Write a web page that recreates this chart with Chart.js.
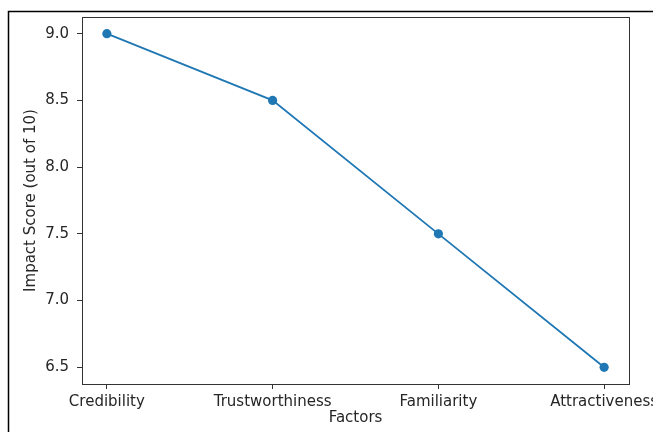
<!DOCTYPE html>
<html>
<head>
<meta charset="utf-8">
<script src="https://cdn.jsdelivr.net/npm/chart.js@4"></script>
<style>
  html, body { margin: 0; padding: 0; background: #fff; }
  #wrap { width: 653px; height: 432px; position: relative; }
</style>
</head>
<body>
<div id="wrap"><canvas id="lineChart" width="653" height="432"></canvas></div>
<script>
// chart data
const factors = ['Credibility', 'Trustworthiness', 'Familiarity', 'Attractiveness'];
const impactScores = [9.0, 8.5, 7.5, 6.5];
const yTicks = [6.5, 7.0, 7.5, 8.0, 8.5, 9.0];

const points = factors.map((f, i) => ({ x: i, y: impactScores[i] }));

// screenshot frame lines + the matplotlib box around the plot
const framePlugin = {
    id: 'frame',
    afterDraw(chart) {
        const ctx = chart.ctx;
        const a = chart.chartArea;
        ctx.save();
        ctx.strokeStyle = '#333';
        ctx.lineWidth = 1;
        ctx.strokeRect(a.left + 0.5, a.top + 0.5, a.right - a.left, a.bottom - a.top);
        ctx.strokeStyle = '#000';
        ctx.lineWidth = 1.5;
        ctx.beginPath();
        ctx.moveTo(653, 11.5);
        ctx.lineTo(8.5, 11.5);
        ctx.lineTo(8.5, 432);
        ctx.stroke();
        ctx.restore();
    }
};

const font = { family: 'DejaVu Sans', size: 15 };

new Chart(document.getElementById('lineChart').getContext('2d'), {
    type: 'line',
    data: {
        datasets: [{
            data: points,
            borderColor: '#1f77b4',
            backgroundColor: '#1f77b4',
            borderWidth: 1.8,
            pointRadius: 4.6,
            pointHoverRadius: 4.6,
            pointBorderWidth: 0,
            tension: 0
        }]
    },
    options: {
        responsive: false,
        animation: false,
        layout: { padding: { top: 17, right: 24, left: 0, bottom: 0 } },
        plugins: {
            legend: { display: false },
            tooltip: { enabled: false }
        },
        scales: {
            x: {
                type: 'linear',
                min: -0.15,
                max: 3.15,
                afterBuildTicks: scale => {
                    scale.ticks = factors.map((f, i) => ({ value: i }));
                },
                afterFit: scale => {
                    scale.height = 48;
                    scale.paddingLeft = 0;
                    scale.paddingRight = 0;
                },
                ticks: {
                    callback: v => factors[v],
                    color: '#262626',
                    font: font,
                    padding: 4,
                    maxRotation: 0,
                    autoSkip: false
                },
                grid: {
                    drawOnChartArea: false,
                    drawTicks: true,
                    tickLength: 5,
                    color: '#333'
                },
                border: { display: false },
                title: {
                    display: true,
                    text: 'Factors',
                    color: '#262626',
                    font: font,
                    padding: { top: 0, bottom: 5 }
                }
            },
            y: {
                min: 6.375,
                max: 9.125,
                afterBuildTicks: scale => {
                    scale.ticks = yTicks.map(v => ({ value: v }));
                },
                afterFit: scale => {
                    scale.width = 82;
                    scale.paddingTop = 0;
                    scale.paddingBottom = 0;
                },
                ticks: {
                    callback: v => Number(v).toFixed(1),
                    color: '#262626',
                    font: font,
                    padding: 8
                },
                grid: {
                    drawOnChartArea: false,
                    drawTicks: true,
                    tickLength: 5,
                    color: '#333'
                },
                border: { display: false },
                title: {
                    display: true,
                    text: 'Impact Score (out of 10)',
                    color: '#262626',
                    font: font,
                    padding: { top: 22, bottom: 0 }
                }
            }
        }
    },
    plugins: [framePlugin]
});
</script>
</body>
</html>
